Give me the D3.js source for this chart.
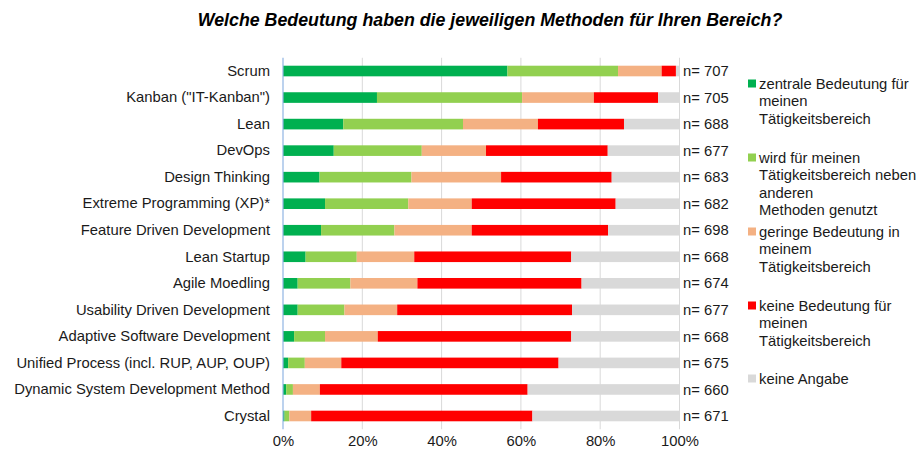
<!DOCTYPE html>
<html>
<head>
<meta charset="utf-8">
<script src="https://cdn.jsdelivr.net/npm/d3@7"></script>
<style>
  body { margin: 0; background: #fff; }
  text { font-family: "Liberation Sans", Arial, sans-serif; }
</style>
</head>
<body>
<script>
// categories and counts
var methods = ["Scrum", "Kanban (\"IT-Kanban\")", "Lean", "DevOps", "Design Thinking",
  "Extreme Programming (XP)*", "Feature Driven Development", "Lean Startup", "Agile Moedling",
  "Usability Driven Development", "Adaptive Software Development",
  "Unified Process (incl. RUP, AUP, OUP)", "Dynamic System Development Method", "Crystal"];
var nValues = [707, 705, 688, 677, 683, 682, 698, 668, 674, 677, 668, 675, 660, 671];

// series (percent)
var zentral = [56.6, 23.7, 15.2, 12.8, 9.2, 10.6, 9.6, 5.7, 3.7, 3.7, 2.8, 1.3, 0.8, 0.4];
var neben   = [27.9, 36.6, 30.2, 22.2, 23.2, 21.0, 18.5, 12.9, 13.3, 11.8, 7.8, 4.2, 1.7, 1.2];
var gering  = [11.0, 18.1, 18.9, 16.2, 22.6, 16.0, 19.5, 14.5, 16.9, 13.3, 13.3, 9.2, 6.8, 5.5];
var keine   = [3.6, 16.2, 21.7, 30.7, 27.9, 36.3, 34.4, 39.6, 41.4, 44.1, 48.8, 54.8, 52.4, 55.8];
var angabe  = [0.9, 5.4, 14.0, 18.1, 17.1, 16.1, 18.0, 27.3, 24.7, 27.1, 27.3, 30.5, 38.3, 37.1];

var seriesNames = ["zentrale Bedeutung für meinen Tätigkeitsbereich",
  "wird für meinen Tätigkeitsbereich neben anderen Methoden genutzt",
  "geringe Bedeutung in meinem Tätigkeitsbereich",
  "keine Bedeutung für meinen Tätigkeitsbereich",
  "keine Angabe"];
var legendLines = [
  ["zentrale Bedeutung für", "meinen", "Tätigkeitsbereich"],
  ["wird für meinen", "Tätigkeitsbereich neben", "anderen", "Methoden genutzt"],
  ["geringe Bedeutung in", "meinem", "Tätigkeitsbereich"],
  ["keine Bedeutung für", "meinen", "Tätigkeitsbereich"],
  ["keine Angabe"]];
var legendY = [84, 158, 232, 306, 379];
var colors = ["#00b050", "#92d050", "#f4b183", "#ff0000", "#d9d9d9"];
var ticks = [0, 20, 40, 60, 80, 100];

var width = 917, height = 455, fs = "14.8px";
var plotLeft = 283, plotRight = 679.5, plotTop = 57.75, plotBottom = 429.25;

var rows = methods.map(function (m, i) {
  return { method: m, n: nValues[i], s0: zentral[i], s1: neben[i], s2: gering[i], s3: keine[i], s4: angabe[i] };
});
var keys = ["s0", "s1", "s2", "s3", "s4"];
var stacked = d3.stack().keys(keys).offset(d3.stackOffsetExpand)(rows);

var svg = d3.select("body").append("svg")
  .attr("width", width).attr("height", height);

var x = d3.scaleLinear().domain([0, 1]).range([plotLeft, plotRight]);
var y = d3.scaleBand().domain(methods).range([plotTop, plotBottom]).paddingInner(0.6).paddingOuter(0.3);

// title
svg.append("text")
  .attr("x", 490).attr("y", 26)
  .attr("text-anchor", "middle")
  .style("font-size", "17.8px").style("font-weight", "bold").style("font-style", "italic")
  .attr("fill", "#000")
  .text("Welche Bedeutung haben die jeweiligen Methoden für Ihren Bereich?");

// gridlines
svg.append("g").selectAll("line").data(ticks.slice(1)).enter().append("line")
  .attr("x1", function (d) { return x(d / 100); }).attr("x2", function (d) { return x(d / 100); })
  .attr("y1", plotTop).attr("y2", plotBottom)
  .attr("stroke", "#d9d9d9").attr("stroke-width", 1);

// bars
svg.append("g").selectAll("g").data(stacked).enter().append("g")
  .attr("fill", function (d, i) { return colors[i]; })
  .selectAll("rect").data(function (d) { return d; }).enter().append("rect")
  .attr("x", function (d) { return x(d[0]); })
  .attr("width", function (d) { return x(d[1]) - x(d[0]); })
  .attr("y", function (d) { return y(d.data.method); })
  .attr("height", y.bandwidth());

// left axis line
svg.append("line")
  .attr("x1", plotLeft).attr("x2", plotLeft).attr("y1", plotTop).attr("y2", plotBottom)
  .attr("stroke", "#8fb4e3").attr("stroke-width", 1.2);

// category labels
var yAxis = svg.append("g")
  .attr("transform", "translate(" + (plotLeft - 13) + ",0)")
  .call(d3.axisLeft(y).tickSize(0).tickPadding(0));
yAxis.select(".domain").remove();
yAxis.selectAll("text").style("font-size", fs).attr("fill", "#1a1a1a")
  .style("font-family", "'Liberation Sans', Arial, sans-serif");

// x axis labels
var xAxis = svg.append("g")
  .attr("transform", "translate(0," + plotBottom + ")")
  .call(d3.axisBottom(x).tickValues(ticks.map(function (t) { return t / 100; }))
    .tickFormat(d3.format(".0%")).tickSize(0).tickPadding(6));
xAxis.select(".domain").remove();
xAxis.selectAll("text").style("font-size", fs).attr("fill", "#1a1a1a")
  .style("font-family", "'Liberation Sans', Arial, sans-serif");

// n labels
svg.append("g").selectAll("text").data(rows).enter().append("text")
  .attr("x", 683)
  .attr("y", function (d) { return y(d.method) + y.bandwidth() / 2; })
  .attr("dy", "0.35em")
  .style("font-size", fs).attr("fill", "#1a1a1a")
  .text(function (d) { return "n= " + d.n; });

// legend
var leg = svg.append("g").selectAll("g").data(seriesNames).enter().append("g")
  .attr("transform", function (d, i) { return "translate(748," + legendY[i] + ")"; });
leg.append("rect")
  .attr("x", 0).attr("y", -4.5).attr("width", 8).attr("height", 8)
  .attr("fill", function (d, i) { return colors[i]; });
leg.each(function (d, i) {
  d3.select(this).selectAll("text").data(legendLines[i]).enter().append("text")
    .attr("x", 11)
    .attr("y", function (l, j) { return j * 17.3; })
    .attr("dy", "0.35em")
    .style("font-size", fs).attr("fill", "#1a1a1a")
    .text(function (l) { return l; });
});
</script>
</body>
</html>
